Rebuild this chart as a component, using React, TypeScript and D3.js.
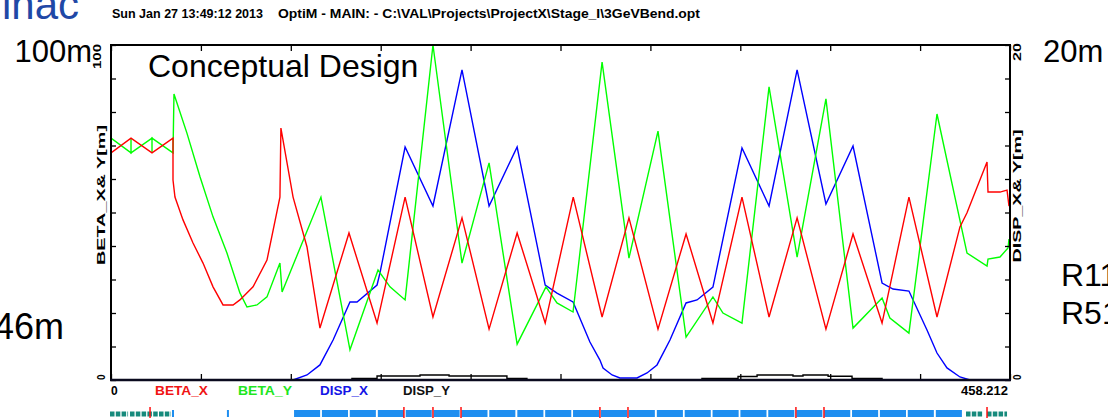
import React, { useRef, useEffect } from 'react'
import * as d3 from 'd3'

// optics along the beamline, s in metres
const sMax = 458.212

const betaX: [number, number][] = [
  [0, 67.8], [10.2, 72.2], [20.9, 67.8], [31.6, 72.2], [31.6, 59.7], [32.6, 54.6],
  [36.7, 47.8], [41.8, 40.9], [46.9, 34.9], [52.0, 27.8], [57.1, 22.4], [62.2, 22.4],
  [65.7, 23.9], [72.4, 27.8], [79.5, 35.8], [86.1, 54.6], [86.6, 75.2], [92.8, 54.6],
  [99.9, 39.7], [106.5, 15.5], [121.3, 43.9], [135.6, 17.0], [149.9, 54.6], [164.1, 18.8],
  [178.9, 48.4], [192.7, 15.2], [207.0, 43.9], [221.3, 17.0], [235.6, 54.6], [250.3, 18.8],
  [264.0, 48.4], [278.8, 15.2], [293.1, 43.6], [306.8, 17.0], [321.6, 54.6], [335.4, 18.8],
  [349.7, 48.4], [364.4, 15.2], [378.2, 43.6], [393.0, 17.0], [406.7, 54.6], [421.0, 18.8],
  [432.7, 45.7], [436.3, 49.9], [446.5, 65.1], [447.0, 56.1], [453.1, 56.1], [456.7, 56.7],
  [457.7, 51.9],
]

const betaY: [number, number][] = [
  [0, 72.2], [10.2, 67.8], [10.2, 72.2], [10.2, 67.8], [20.9, 72.2], [20.9, 67.8],
  [20.9, 72.2], [31.6, 67.8], [32.1, 85.4], [38.7, 73.7], [45.4, 60.6], [52.0, 48.7],
  [59.1, 37.9], [65.7, 26.0], [69.3, 21.8], [74.4, 22.4], [79.5, 24.8], [86.1, 34.9],
  [87.2, 26.3], [107.0, 54.6], [121.8, 9.0], [136.1, 32.8], [142.2, 27.8], [149.9, 23.9],
  [164.1, 100.0], [178.9, 34.9], [192.7, 64.8], [207.0, 10.7], [221.7, 27.8], [227.3, 23.0],
  [235.5, 20.3], [250.3, 94.9], [264.0, 36.4], [278.8, 74.3], [293.1, 12.8], [306.8, 24.8],
  [311.9, 20.0], [321.6, 17.0], [335.4, 87.5], [349.7, 36.7], [364.4, 83.9], [378.2, 15.5],
  [393.0, 24.5], [397.0, 18.5], [406.7, 14.0], [421.0, 79.4], [436.3, 37.9], [446.5, 34.0],
  [447.0, 36.1], [453.1, 36.7], [457.2, 39.4], [457.7, 42.1],
]

const dispX: [number, number][] = [
  [0, 0], [92.8, 0], [99.9, 0.3], [106.5, 0.9], [113.2, 2.39], [121.8, 4.66], [125.4, 4.66],
  [135.6, 5.67], [137.1, 6.39], [149.9, 13.91], [164.1, 10.39], [178.9, 18.51], [192.7, 10.39],
  [207.0, 13.91], [221.3, 5.67], [227.3, 5.19], [235.5, 4.66], [244.1, 2.27], [249.2, 1.19],
  [250.8, 0.72], [255.4, 0.3], [259.4, 0.12], [268.1, 0.12], [273.2, 0.42], [278.3, 0.9],
  [284.9, 2.39], [293.1, 4.6], [298.7, 4.78], [306.8, 5.55], [321.6, 13.85], [335.4, 10.39],
  [349.7, 18.51], [364.4, 10.51], [378.2, 13.97], [393.0, 5.79], [398.6, 5.43], [406.7, 5.31],
  [415.9, 2.99], [421.0, 1.61], [426.1, 0.72], [432.7, 0.18], [437.8, 0], [458.2, 0],
]

// DISP_Y is a step function
const dispYStart = [0, 122.8, 135.6, 157.5, 172.3, 201.8, 212.0, 301.2, 319.6, 329.3, 347.6, 352.7, 365.5, 377.7, 393.0, 458.2]
const dispYValue = [0, 0.09, 0.24, 0.3, 0.24, 0.09, 0, 0.09, 0.21, 0.3, 0.24, 0.3, 0.22, 0.09, 0, 0]

// lattice strip
const bendStart = [
  93.3, 107.5, 121.7, 136.0, 150.2, 164.4, 178.6, 192.8, 207.1, 221.3, 235.5, 249.7,
  263.9, 278.2, 292.4, 306.6, 320.8, 335.0, 349.3, 363.5, 377.7, 391.9, 406.1, 420.4,
]
const bendLength = 13.3
const thinBends = [31.6, 59.6]
const quadRuns: [number, number][] = [[0, 8.7], [10.2, 30.6], [436.3, 444.5], [447.0, 456.7]]
const markers = [19.9, 149.3, 164.1, 178.4, 249.2, 263.5, 349.1, 363.4, 446.5]

const legend = [
  { name: 'BETA_X', color: '#f01414', x: 155, len: 53 },
  { name: 'BETA_Y', color: '#1ee61e', x: 238, len: 54 },
  { name: 'DISP_X', color: '#1414e6', x: 320, len: 48 },
  { name: 'DISP_Y', color: '#111', x: 403, len: 47 },
]

const W = 1108
const H = 420
const font = '"Liberation Sans", Arial, sans-serif'

export default function App() {
  const ref = useRef<SVGSVGElement>(null)

  useEffect(() => {
    const svg = d3.select(ref.current)
    svg.selectAll('*').remove()

    const left = 111, right = 1010, top = 45, bottom = 380
    const x = d3.scaleLinear().domain([0, sMax]).range([left, right])
    const yL = d3.scaleLinear().domain([0, 100]).range([bottom, top])
    const yR = d3.scaleLinear().domain([0, 20]).range([bottom, top])

    svg.append('rect').attr('width', W).attr('height', H).attr('fill', '#fff')

    // header texts
    svg.append('text').text('inac').attr('x', 2).attr('y', 19)
      .attr('font-family', font).attr('font-size', 42).attr('fill', '#1f48a6')
    svg.append('text').text('Sun Jan 27 13:49:12 2013').attr('x', 112).attr('y', 18)
      .attr('font-family', font).attr('font-size', 12).attr('font-weight', 'bold')
      .attr('textLength', 151).attr('lengthAdjust', 'spacingAndGlyphs')
    svg.append('text').text('OptiM - MAIN: - C:\\VAL\\Projects\\ProjectX\\Stage_I\\3GeVBend.opt')
      .attr('x', 278).attr('y', 18)
      .attr('font-family', font).attr('font-size', 12).attr('font-weight', 'bold')
      .attr('textLength', 422).attr('lengthAdjust', 'spacingAndGlyphs')

    // slide annotations
    const big = [
      { t: '100m', x: 92, y: 62, size: 31, anchor: 'end' },
      { t: '20m', x: 1043, y: 62, size: 31, anchor: 'start' },
      { t: '46m', x: 64, y: 339, size: 36, anchor: 'end' },
      { t: 'R11', x: 1061, y: 286, size: 32, anchor: 'start' },
      { t: 'R51', x: 1061, y: 324, size: 32, anchor: 'start' },
    ]
    big.forEach(b => {
      svg.append('text').text(b.t).attr('x', b.x).attr('y', b.y)
        .attr('text-anchor', b.anchor).attr('font-family', font).attr('font-size', b.size)
    })

    // curves
    const clipId = 'plot-clip'
    svg.append('clipPath').attr('id', clipId).append('rect')
      .attr('x', left).attr('y', top - 1).attr('width', right - left).attr('height', bottom - top + 1)
    const plot = svg.append('g').attr('clip-path', `url(#${clipId})`)

    const lineL = d3.line<[number, number]>().x(d => x(d[0])).y(d => yL(d[1]))
    const lineR = d3.line<[number, number]>().x(d => x(d[0])).y(d => yR(d[1]))

    const dispY: [number, number][] = dispYStart.map((s, i) => [s, dispYValue[i]])
    plot.append('path').datum(dispY)
      .attr('d', lineR.curve(d3.curveStepAfter)(dispY))
      .attr('fill', 'none').attr('stroke', '#000').attr('stroke-width', 1.4)
    lineR.curve(d3.curveLinear)

    plot.append('path').attr('d', lineR(dispX))
      .attr('fill', 'none').attr('stroke', '#0000ff').attr('stroke-width', 1.4)
    plot.append('path').attr('d', lineL(betaY))
      .attr('fill', 'none').attr('stroke', '#00ff00').attr('stroke-width', 1.4)
    plot.append('path').attr('d', lineL(betaX))
      .attr('fill', 'none').attr('stroke', '#ff0000').attr('stroke-width', 1.4)

    // ticks pointing inwards
    const xTicks = d3.range(0, 11).map(i => (sMax * i) / 10)
    const tickStyle = (g: d3.Selection<SVGGElement, unknown, null, undefined>) => {
      g.select('.domain').remove()
      g.selectAll('line').attr('stroke', '#000').attr('stroke-width', 1.3)
    }
    svg.append('g').attr('transform', `translate(0,${bottom})`)
      .call(d3.axisBottom(x).tickValues(xTicks).tickSize(-6).tickFormat(() => ''))
      .call(tickStyle)
    svg.append('g').attr('transform', `translate(0,${top})`)
      .call(d3.axisTop(x).tickValues(xTicks).tickSize(-6).tickFormat(() => ''))
      .call(tickStyle)
    svg.append('g').attr('transform', `translate(${left},0)`)
      .call(d3.axisLeft(yL).ticks(10).tickSize(-5).tickFormat(() => ''))
      .call(tickStyle)
    svg.append('g').attr('transform', `translate(${right},0)`)
      .call(d3.axisRight(yR).ticks(10).tickSize(-5).tickFormat(() => ''))
      .call(tickStyle)

    // frame
    svg.append('path')
      .attr('d', `M${left},${bottom}V${top}H${right}V${bottom}`)
      .attr('fill', 'none').attr('stroke', '#000').attr('stroke-width', 2)
    svg.append('line').attr('x1', left - 1).attr('x2', right + 1).attr('y1', bottom).attr('y2', bottom)
      .attr('stroke', '#0a0a1e').attr('stroke-width', 2.6)

    // rotated labels
    const vText = (t: string, px: number, py: number, anchor: string, size: number, len?: number) => {
      const el = svg.append('text').text(t)
        .attr('transform', `translate(${px},${py}) rotate(-90)`)
        .attr('text-anchor', anchor).attr('font-family', font)
        .attr('font-size', size).attr('font-weight', 'bold')
      if (len) el.attr('textLength', len).attr('lengthAdjust', 'spacingAndGlyphs')
    }
    vText('100', 101, 44, 'end', 10, 25)
    vText('0', 105, 380, 'start', 10)
    vText('20', 1021, 43, 'end', 10, 18)
    vText('0', 1021, 380, 'start', 10)
    vText('BETA_X& Y[m]', 105, 195, 'middle', 11, 140)
    vText('DISP_X& Y[m]', 1021, 196, 'middle', 11, 133)

    // bottom labels
    svg.append('text').text('0').attr('x', 111).attr('y', 395)
      .attr('font-family', font).attr('font-size', 12).attr('font-weight', 'bold')
    svg.append('text').text(String(sMax)).attr('x', 1008).attr('y', 395).attr('text-anchor', 'end')
      .attr('font-family', font).attr('font-size', 12).attr('font-weight', 'bold')
      .attr('textLength', 47).attr('lengthAdjust', 'spacingAndGlyphs')
    legend.forEach(l => {
      svg.append('text').text(l.name).attr('x', l.x).attr('y', 395)
        .attr('font-family', font).attr('font-size', 12).attr('font-weight', 'bold')
        .attr('fill', l.color).attr('textLength', l.len).attr('lengthAdjust', 'spacingAndGlyphs')
    })

    // plot title
    svg.append('text').text('Conceptual Design').attr('x', 148).attr('y', 77)
      .attr('font-family', font).attr('font-size', 32)

    // lattice
    const lat = svg.append('g')
    lat.selectAll('rect.bend').data(bendStart).enter().append('rect')
      .attr('class', 'bend')
      .attr('x', s => x(s)).attr('y', 410)
      .attr('width', x(bendLength) - x(0)).attr('height', 7)
      .attr('fill', '#1e8ef0')
    lat.selectAll('rect.thin').data(thinBends).enter().append('rect')
      .attr('class', 'thin')
      .attr('x', s => x(s) - 1).attr('y', 410).attr('width', 2).attr('height', 7)
      .attr('fill', '#1e8ef0')
    lat.selectAll('line.quad').data(quadRuns).enter().append('line')
      .attr('class', 'quad')
      .attr('x1', d => x(d[0]) - 1).attr('x2', d => x(d[1]))
      .attr('y1', 414).attr('y2', 414)
      .attr('stroke', '#168a7c').attr('stroke-width', 5)
      .attr('stroke-dasharray', '4.5 1.3')
    lat.selectAll('line.mark').data(markers).enter().append('line')
      .attr('class', 'mark')
      .attr('x1', s => x(s)).attr('x2', s => x(s))
      .attr('y1', 407).attr('y2', 418)
      .attr('stroke', '#ff1010').attr('stroke-width', 1.5)
  }, [])

  return (
    <svg
      ref={ref}
      width={W}
      height={H}
      style={{ position: 'absolute', left: 0, top: 0, display: 'block' }}
    ></svg>
  )
}
